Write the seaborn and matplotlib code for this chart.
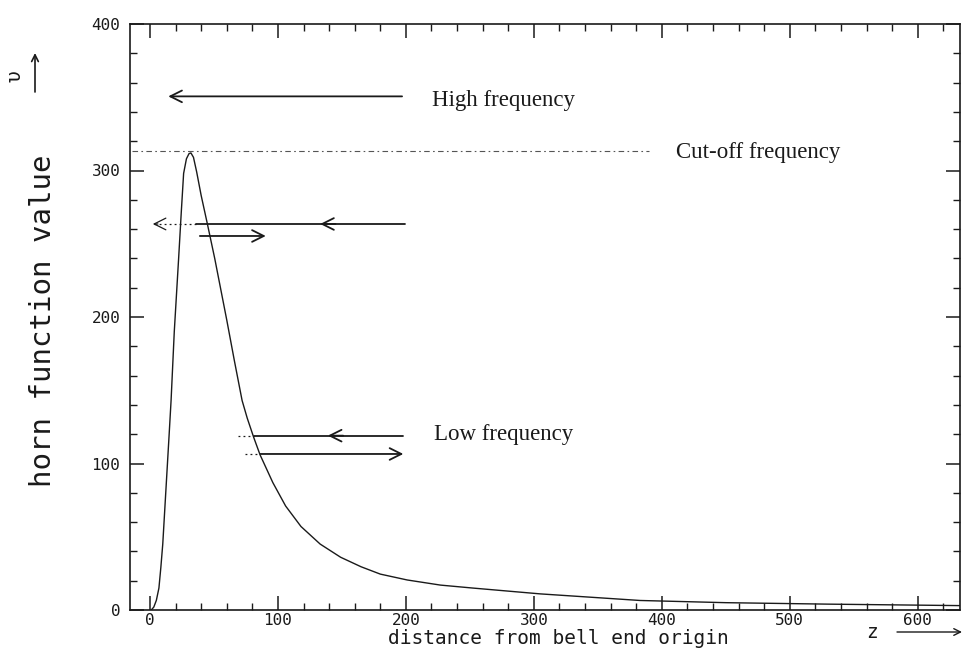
import numpy as np
import pandas as pd
import matplotlib
matplotlib.use("Agg")
import matplotlib.pyplot as plt
from matplotlib.ticker import MultipleLocator
import seaborn as sns

# ---------------- data ----------------
z_dist = [1, 3, 5, 7, 8.5, 10, 12, 15, 16.5, 19, 22.4, 24.5, 26.3, 28.5, 30.5,
          32, 34, 36.5, 40, 45, 50.6, 60, 66, 72, 76, 81, 86, 96, 106, 118,
          133, 149, 165, 180, 201, 227, 252, 305, 383, 450, 530, 633]
horn_u = [0, 2, 6.6, 15, 29, 45, 75, 120, 143, 190, 240, 272, 298, 308, 311.5,
          312, 309, 299, 283, 263, 240, 198, 170, 143, 131, 118, 106, 87, 71, 57,
          45, 36, 29.5, 24.5, 20.5, 17, 15, 11, 6.5, 5, 4, 3]

cutoff_value = 313
cutoff_x = [-14, 390]

# arrows: (x_start, x_end, y) in data units
high_arrow = (197, 14.3, 350.6)
mid_solid = (199, 36, 263.5)
mid_solid_head = 133
mid_dotted = (36, 2.2, 263.5)
mid_return = (39, 90.5, 255.3)
low_dotted_upper = (69, 81, 119)
low_solid_upper = (198, 81, 119)
low_solid_upper_head = 139
low_dotted_lower = (74.6, 86.3, 106.5)
low_solid_lower = (86.3, 198, 106.5)

labels = [("High frequency", 220.5, 348),
          ("Cut-off frequency", 411, 312.6),
          ("Low frequency", 221.6, 119.5)]

x_label = "distance from bell end origin"
y_label = "horn function value"

# ---------------- style ----------------
sns.set_theme(style="ticks")
plt.rcParams["font.family"] = ["DejaVu Sans Mono", "DejaVu Sans"]
ink = "#1a1a1a"

W, H = 964, 652
fig = plt.figure(figsize=(W / 100, H / 100), dpi=100)
fig.patch.set_facecolor("white")
ax = fig.add_axes([130 / W, 1 - 610 / H, 830 / W, 586 / H])
ax.set_facecolor("white")

df = pd.DataFrame({"z": z_dist, "u": horn_u})
sns.lineplot(data=df, x="z", y="u", ax=ax, color=ink, lw=1.0,
             sort=False, estimator=None)

ax.set_xlim(-15.6, 633)
ax.set_ylim(0, 400)
ax.xaxis.set_major_locator(MultipleLocator(100))
ax.xaxis.set_minor_locator(MultipleLocator(20))
ax.yaxis.set_major_locator(MultipleLocator(100))
ax.yaxis.set_minor_locator(MultipleLocator(20))
ax.tick_params(which="both", direction="in", top=True, right=True,
               color=ink, labelcolor=ink, labelsize=11.5)
ax.tick_params(which="major", length=10, width=1.1)
ax.tick_params(which="minor", length=5, width=1.0)
ax.tick_params(axis="x", pad=2)
ax.tick_params(axis="y", pad=7)
for s in ax.spines.values():
    s.set_color(ink)
    s.set_linewidth(1.2)

ax.set_xlabel(x_label, fontsize=14, color=ink)
ax.xaxis.label.set_va("center")
ax.xaxis.set_label_coords((558 - 130) / 830, (610 - 639) / 586)
ax.set_ylabel(y_label, fontsize=21, color=ink)
ax.yaxis.label.set_va("center")
ax.yaxis.label.set_ha("center")
ax.yaxis.set_label_coords((43 - 130) / 830, (610 - 321) / 586)

# cut-off line
ax.plot(cutoff_x, [cutoff_value, cutoff_value], color="#555555", lw=0.8,
        ls=(0, (5, 3, 1.5, 3)))

def arrow(x0, x1, y, lw=1.3, ls="-", head=True):
    style = "->,head_length=0.6,head_width=0.3" if head else "-"
    ax.annotate("", xy=(x1, y), xytext=(x0, y),
                arrowprops=dict(arrowstyle=style, lw=lw, color=ink, ls=ls,
                                shrinkA=0, shrinkB=0, mutation_scale=14))

def plain(x0, x1, y, lw=1.3, ls="-"):
    ax.plot([x0, x1], [y, y], color=ink, lw=lw, ls=ls)

# high frequency
arrow(*high_arrow)
# middle
plain(*mid_solid)
arrow(mid_solid_head + 12, mid_solid_head, mid_solid[2])
plain(*mid_dotted, lw=0.9, ls=(0, (1.5, 2.5)))
arrow(mid_dotted[1] + 4, mid_dotted[1], mid_dotted[2], lw=0.9)
arrow(*mid_return)
# low
plain(*low_dotted_upper, lw=0.9, ls=(0, (1.5, 2.5)))
plain(*low_solid_upper)
arrow(low_solid_upper_head + 12, low_solid_upper_head, low_solid_upper[2])
plain(*low_dotted_lower, lw=0.9, ls=(0, (1.5, 2.5)))
arrow(*low_solid_lower)

for txt, x, y in labels:
    ax.text(x, y, txt, fontsize=16.5, family="Liberation Serif",
            color=ink, ha="left", va="center")

# axis symbols
fig.text(15 / W, 1 - 76 / H, "υ", rotation=90, fontsize=14, color=ink,
         ha="center", va="center")
fig.text(872 / W, 1 - 633 / H, "z", fontsize=14, color=ink,
         ha="center", va="center")
ax.annotate("", xy=(35 / W, 1 - 53 / H), xytext=(35 / W, 1 - 92 / H),
            xycoords="figure fraction", textcoords="figure fraction",
            arrowprops=dict(arrowstyle="->", lw=1.2, color=ink,
                            shrinkA=0, shrinkB=0), annotation_clip=False)
ax.annotate("", xy=(962 / W, 1 - 632 / H), xytext=(897 / W, 1 - 632 / H),
            xycoords="figure fraction", textcoords="figure fraction",
            arrowprops=dict(arrowstyle="->", lw=1.0, color=ink,
                            shrinkA=0, shrinkB=0), annotation_clip=False)

fig.savefig("out.png", dpi=100, facecolor="white")
